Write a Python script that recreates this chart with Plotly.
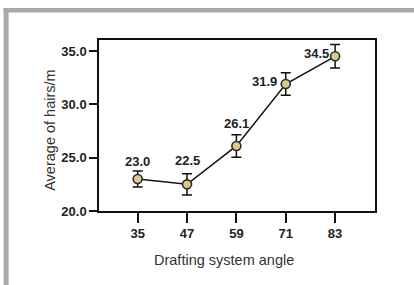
import plotly.graph_objects as go

angles = [35, 47, 59, 71, 83]
hairs = [23.0, 22.5, 26.1, 31.9, 34.5]
errors = [0.75, 1.0, 1.05, 1.05, 1.1]
labels = ["23.0", "22.5", "26.1", "31.9", "34.5"]
y_ticks = [20.0, 25.0, 30.0, 35.0]
y_tick_text = ["20.0", "25.0", "30.0", "35.0"]

FONT = "Liberation Sans, Arial, sans-serif"

# plot-area pixel geometry (for converting paper coords)
L, R, T, B = 99.3, 375.0, 40.0, 210.7
W, H = R - L, B - T

def px(x):
    return (x - L) / W

def py(y):
    return (B - y) / H

fig = go.Figure()
fig.add_trace(go.Scatter(
    x=angles, y=hairs,
    mode="lines+markers",
    line=dict(color="#111111", width=1.5),
    marker=dict(size=9, color="#dccb86", line=dict(color="#2a2a2a", width=1.6)),
    error_y=dict(type="data", array=errors, visible=True, color="#111111",
                 thickness=1.5, width=5),
    showlegend=False,
))

# value labels
shifts = [(0, 18), (0, 24), (0, 22), (-21, 3), (-19, 3)]
for a, v, t, (dx, dy) in zip(angles, hairs, labels, shifts):
    fig.add_annotation(x=a, y=v, text=t, showarrow=False,
                       xshift=dx, yshift=dy,
                       font=dict(family=FONT, size=13, color="#222222", weight="bold"))

# axis titles
fig.add_annotation(xref="paper", yref="paper", x=px(224), y=py(260),
                   text="Drafting system angle", showarrow=False,
                   font=dict(family=FONT, size=14.5, color="#333333"),
                   xanchor="center", yanchor="middle")
fig.add_annotation(xref="paper", yref="paper", x=px(51), y=py(130),
                   text="Average of hairs/m", textangle=-90, showarrow=False,
                   font=dict(family=FONT, size=14.5, color="#333333"),
                   xanchor="center", yanchor="middle")

# gray frame border of the figure panel
GRAY = "#a9a9ad"
fig.add_shape(type="rect", xref="paper", yref="paper",
              x0=px(4), x1=px(9), y0=py(290), y1=py(8),
              fillcolor=GRAY, line=dict(width=0), layer="below")
fig.add_shape(type="rect", xref="paper", yref="paper",
              x0=px(4), x1=px(420), y0=py(12.5), y1=py(8),
              fillcolor=GRAY, line=dict(width=0), layer="below")

fig.update_xaxes(
    range=[25.6, 92.7], tickvals=angles, ticktext=[str(a) for a in angles],
    showgrid=False, zeroline=False, showline=True, linecolor="#111111", linewidth=1.5,
    mirror=True, ticks="outside", ticklen=10, tickwidth=1.5, tickcolor="#111111",
    tickfont=dict(family=FONT, size=13, color="#222222", weight="bold"),
)
fig.update_yaxes(
    range=[20, 36.03], tickvals=y_ticks, ticktext=y_tick_text,
    showgrid=False, zeroline=False, showline=True, linecolor="#111111", linewidth=1.5,
    mirror=True, ticks="outside", ticklen=8, tickwidth=1.5, tickcolor="#111111",
    tickfont=dict(family=FONT, size=13, color="#222222", weight="bold"),
)
fig.update_layout(
    width=414, height=285,
    margin=dict(l=99, r=39, t=40, b=74, pad=0),
    paper_bgcolor="white", plot_bgcolor="white",
)
fig.write_html("out.html", config={"displayModeBar": False},
               post_script="document.body.style.margin='0';")
